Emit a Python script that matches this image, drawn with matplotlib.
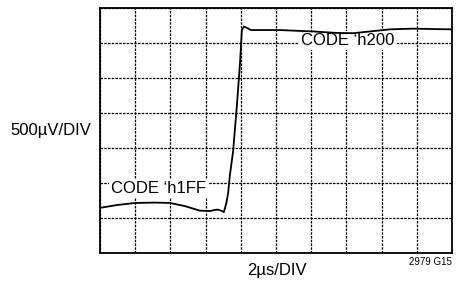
import matplotlib
matplotlib.use('Agg')
import matplotlib.pyplot as plt

plt.rcParams['font.family'] = ['Liberation Sans Narrow', 'Liberation Sans', 'DejaVu Sans']

# trace, in divisions
trace_x = [0.0, 0.48, 1.0, 1.56, 1.99, 2.41, 2.84, 3.13, 3.26, 3.34, 3.44, 3.52,
           3.59, 3.64, 3.69, 3.78, 3.89, 3.98, 4.03, 4.09, 4.18, 4.29,
           5.11, 6.05, 6.68, 7.19, 7.67, 8.24, 8.89, 9.38, 10.0]
trace_y = [1.29, 1.37, 1.43, 1.44, 1.43, 1.34, 1.21, 1.20, 1.23, 1.24, 1.21, 1.17,
           1.43, 1.71, 2.23, 2.89, 4.23, 5.46, 6.37, 6.47, 6.43, 6.37,
           6.37, 6.33, 6.29, 6.28, 6.33, 6.39, 6.41, 6.40, 6.39]

n_xdiv = 10
n_ydiv = 7

fig = plt.figure(figsize=(4.68, 2.82), dpi=100)
ax = fig.add_axes([100 / 468, 29 / 282, 352 / 468, 245 / 282])

ax.plot(trace_x, trace_y, color='black', lw=1.3, zorder=3)

ax.set_xlim(0, n_xdiv)
ax.set_ylim(0, n_ydiv)
ax.set_xticks(range(n_xdiv + 1))
ax.set_yticks(range(n_ydiv + 1))
ax.tick_params(length=0, labelbottom=False, labelleft=False)
ax.grid(True, color='black', lw=0.9, linestyle=(0, (2, 1)), zorder=1)
for sp in ax.spines.values():
    sp.set_linewidth(1.3)

box = dict(facecolor='white', edgecolor='none', pad=1.5)
ax.text(5.72, 6.06, "CODE \u2018h200", fontsize=12, ha='left', va='center',
        bbox=box, zorder=2)
ax.text(0.3, 1.84, "CODE \u2018h1FF", fontsize=12, ha='left', va='center',
        bbox=box, zorder=2)

fig.text(51 / 468, 1 - 130 / 282, "500\u00b5V/DIV", fontsize=12, ha='center', va='center')
fig.text(277 / 468, 1 - 270 / 282, "2\u00b5s/DIV", fontsize=12, ha='center', va='center')
fig.text(452 / 468, 1 - 262 / 282, "2979 G15", fontsize=7, ha='right', va='center')

fig.savefig('out.png', dpi=100)
